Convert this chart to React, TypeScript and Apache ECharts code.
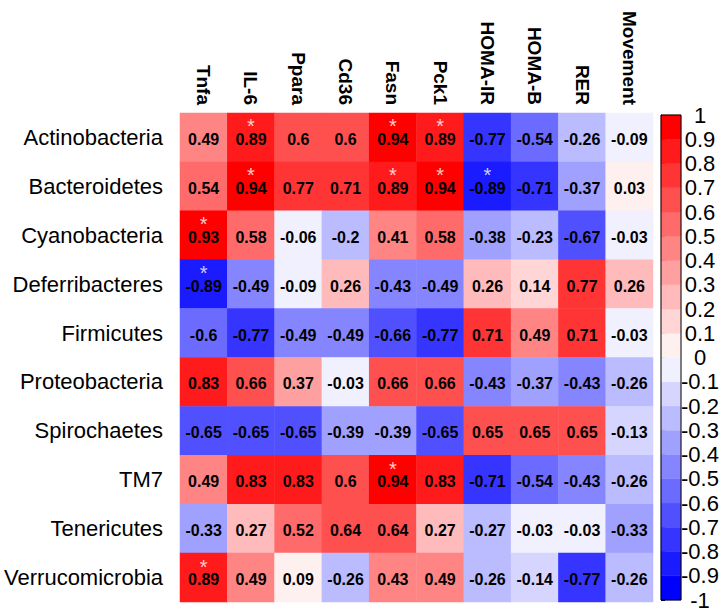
import React, { useEffect, useRef } from "react";
import * as echarts from "echarts";

const columns = ["Tnfa", "IL-6", "Ppara", "Cd36", "Fasn", "Pck1", "HOMA-IR", "HOMA-B", "RER", "Movement"];
const rows = [
  "Actinobacteria",
  "Bacteroidetes",
  "Cyanobacteria",
  "Deferribacteres",
  "Firmicutes",
  "Proteobacteria",
  "Spirochaetes",
  "TM7",
  "Tenericutes",
  "Verrucomicrobia",
];

const actinobacteria = [0.49, 0.89, 0.6, 0.6, 0.94, 0.89, -0.77, -0.54, -0.26, -0.09];
const bacteroidetes = [0.54, 0.94, 0.77, 0.71, 0.89, 0.94, -0.89, -0.71, -0.37, 0.03];
const cyanobacteria = [0.93, 0.58, -0.06, -0.203, 0.41, 0.58, -0.38, -0.23, -0.67, -0.03];
const deferribacteres = [-0.89, -0.49, -0.09, 0.26, -0.43, -0.49, 0.26, 0.14, 0.77, 0.26];
const firmicutes = [-0.598, -0.77, -0.49, -0.49, -0.66, -0.77, 0.71, 0.49, 0.71, -0.03];
const proteobacteria = [0.83, 0.66, 0.37, -0.03, 0.66, 0.66, -0.43, -0.37, -0.43, -0.26];
const spirochaetes = [-0.65, -0.65, -0.65, -0.39, -0.39, -0.65, 0.65, 0.65, 0.65, -0.13];
const tm7 = [0.49, 0.83, 0.83, 0.6, 0.94, 0.83, -0.71, -0.54, -0.43, -0.26];
const tenericutes = [-0.33, 0.27, 0.52, 0.64, 0.64, 0.27, -0.27, -0.03, -0.03, -0.33];
const verrucomicrobia = [0.89, 0.49, 0.09, -0.26, 0.43, 0.49, -0.26, -0.14, -0.77, -0.26];

const matrix = [
  actinobacteria,
  bacteroidetes,
  cyanobacteria,
  deferribacteres,
  firmicutes,
  proteobacteria,
  spirochaetes,
  tm7,
  tenericutes,
  verrucomicrobia,
];

// significant cells: [column, row]
const stars: [string, string][] = [
  ["IL-6", "Actinobacteria"],
  ["Fasn", "Actinobacteria"],
  ["Pck1", "Actinobacteria"],
  ["IL-6", "Bacteroidetes"],
  ["Fasn", "Bacteroidetes"],
  ["Pck1", "Bacteroidetes"],
  ["HOMA-IR", "Bacteroidetes"],
  ["Tnfa", "Cyanobacteria"],
  ["Tnfa", "Deferribacteres"],
  ["Fasn", "TM7"],
  ["Tnfa", "Verrucomicrobia"],
];

// lightness of each |bin| (0 = 0..0.1, 9 = 0.9..1)
const binShade = [240, 213, 187, 160, 133, 107, 80, 53, 27, 0];

const FONT = "'Liberation Sans', Arial, Helvetica, sans-serif";

function pieceColor(i: number): string {
  if (i >= 10) {
    const g = binShade[i - 10];
    return `rgb(255,${g},${g})`;
  }
  const g = binShade[9 - i];
  return `rgb(${g},${g},255)`;
}

function fmt(v: number): string {
  return String(parseFloat(v.toFixed(2)));
}

export default function App() {
  const ref = useRef<HTMLDivElement>(null);

  useEffect(() => {
    document.body.style.margin = "0";
    if (!ref.current) return;
    const chart = echarts.init(ref.current, null, { renderer: "svg" });

    const heatData: [number, number, number][] = [];
    matrix.forEach((r, ri) => r.forEach((v, ci) => heatData.push([ci, ri, v])));

    const pieces = [] as any[];
    const barData: [number, number, number][] = [];
    for (let i = 0; i < 20; i++) {
      const lo = (i - 10) / 10;
      const hi = (i - 9) / 10;
      const p: any = { gte: lo, color: pieceColor(i) };
      if (i === 19) p.lte = hi;
      else p.lt = hi;
      pieces.push(p);
      barData.push([lo, hi, i]);
    }
    barData.push([-1, 1, -1]);

    const starData = stars.map(([c, r]) => [columns.indexOf(c), rows.indexOf(r)]);

    chart.setOption({
      animation: false,
      grid: [
        { left: 180, top: 113, width: 473, height: 489, containLabel: false },
        { left: 661, top: 115, width: 20, height: 485, containLabel: false },
      ],
      xAxis: [
        {
          type: "category",
          gridIndex: 0,
          data: columns,
          position: "top",
          axisLine: { show: false },
          axisTick: { show: false },
          splitLine: { show: false },
          axisLabel: {
            rotate: 90,
            margin: 8,
            fontSize: 19,
            fontWeight: "bold",
            color: "#000",
            fontFamily: FONT,
            interval: 0,
          },
        },
        { type: "value", gridIndex: 1, min: 0, max: 1, show: false },
      ],
      yAxis: [
        {
          type: "category",
          gridIndex: 0,
          data: rows,
          inverse: true,
          axisLine: { show: false },
          axisTick: { show: false },
          splitLine: { show: false },
          axisLabel: {
            margin: 17,
            fontSize: 22,
            color: "#000",
            fontFamily: FONT,
            interval: 0,
          },
        },
        {
          type: "value",
          gridIndex: 1,
          min: -1,
          max: 1,
          interval: 0.1,
          position: "right",
          splitLine: { show: false },
          axisLine: { show: true, lineStyle: { color: "#000", width: 1 } },
          axisTick: { show: true, inside: false, length: 4, lineStyle: { color: "#000" } },
          axisLabel: {
            align: "center",
            margin: 19,
            fontSize: 22,
            color: "#000",
            fontFamily: FONT,
            formatter: (v: number) => String(Math.round(v * 10) / 10),
          },
        },
      ],
      visualMap: {
        type: "piecewise",
        show: false,
        seriesIndex: 0,
        dimension: 2,
        pieces,
      },
      series: [
        {
          type: "heatmap",
          xAxisIndex: 0,
          yAxisIndex: 0,
          data: heatData,
          itemStyle: { borderWidth: 0 },
          label: {
            show: true,
            offset: [0, 2],
            fontSize: 16,
            lineHeight: 13,
            fontWeight: "bold",
            color: "#000",
            fontFamily: FONT,
            formatter: (p: any) => fmt(p.value[2]),
          },
          emphasis: { disabled: true },
        },
        {
          type: "scatter",
          xAxisIndex: 0,
          yAxisIndex: 0,
          data: starData,
          symbol: "circle",
          symbolSize: 0,
          z: 5,
          label: {
            show: true,
            position: "inside",
            offset: [0, -11],
            formatter: "*",
            fontSize: 20,
            lineHeight: 8,
            color: "#fff",
            fontFamily: FONT,
          },
          emphasis: { disabled: true },
        },
        {
          type: "custom",
          xAxisIndex: 1,
          yAxisIndex: 1,
          data: barData,
          clip: false,
          encode: { x: -1, y: [0, 1] },
          renderItem: (_params: any, api: any) => {
            const lo = api.value(0);
            const hi = api.value(1);
            const idx = api.value(2);
            const a = api.coord([0, hi]);
            const b = api.coord([1, lo]);
            return {
              type: "rect",
              shape: { x: a[0], y: a[1], width: b[0] - a[0], height: b[1] - a[1] },
              style:
                idx < 0
                  ? { fill: "none", stroke: "#000", lineWidth: 1 }
                  : { fill: pieceColor(idx), stroke: pieceColor(idx), lineWidth: 0.5 },
              z2: idx < 0 ? 10 : 1,
            };
          },
        },
      ],
    });

    return () => chart.dispose();
  }, []);

  return <div ref={ref} style={{ width: 722, height: 613 }} />;
}
